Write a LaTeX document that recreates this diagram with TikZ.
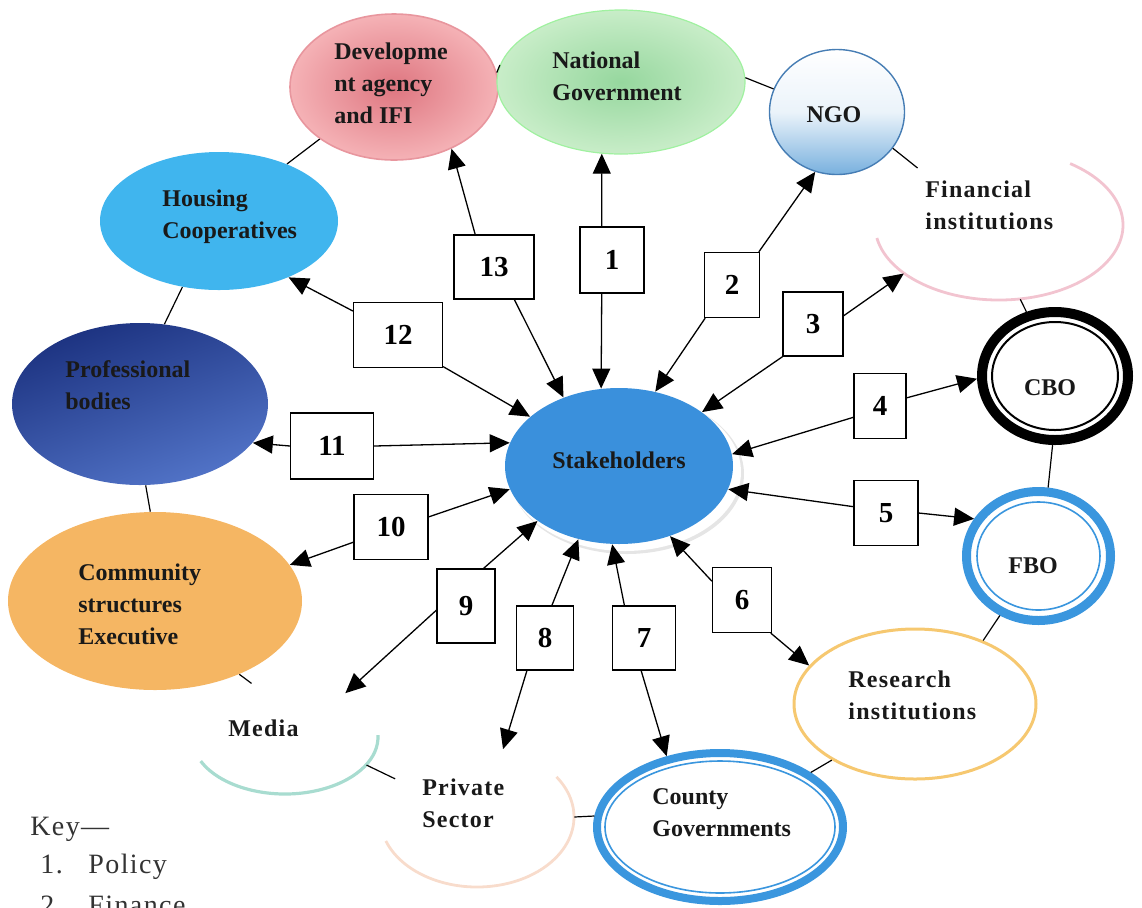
\documentclass[tikz,border=0pt]{standalone}
\usepackage{fontspec}
\setmainfont{Liberation Serif}
\newfontfamily\keyfont[LetterSpace=5]{Liberation Serif}
\usetikzlibrary{shapes.geometric,arrows.meta}
\definecolor{devin}{RGB}{222,118,128}
\definecolor{devout}{RGB}{245,178,182}
\definecolor{devline}{RGB}{232,150,158}
\definecolor{ngin}{RGB}{150,215,158}
\definecolor{ngout}{RGB}{200,237,200}
\definecolor{ngoblue}{RGB}{120,176,222}
\definecolor{ngoline}{RGB}{70,125,180}
\definecolor{finpink}{RGB}{242,196,208}
\definecolor{housing}{RGB}{64,181,238}
\definecolor{profdark}{RGB}{28,50,128}
\definecolor{proflight}{RGB}{82,116,200}
\definecolor{commorange}{RGB}{245,182,99}
\definecolor{mediateal}{RGB}{168,220,208}
\definecolor{privpeach}{RGB}{248,220,204}
\definecolor{ringblue}{RGB}{58,150,222}
\definecolor{resyellow}{RGB}{246,200,112}
\definecolor{stakeblue}{RGB}{58,144,220}
\begin{document}
\begin{tikzpicture}[x=0.5pt,y=-0.5pt,
  blob/.style={ellipse, inner sep=0pt, text=black},
  lbl/.style={font=\fontsize{12}{16}\selectfont\bfseries, align=left, inner sep=0pt, text=black!90},
  wide/.style={font=\fontsize{12}{16}\selectfont\bfseries\addfontfeature{LetterSpace=5}},
  numbox/.style={draw, line width=0.6pt, fill=white, inner sep=0pt, font=\fontsize{14.5}{16}\selectfont\bfseries},
  arr/.style={line width=0.65pt, -{Triangle[length=10pt,width=9pt]}},
  ring/.style={line width=0.6pt},
  keytxt/.style={font=\fontsize{14}{16}\selectfont\keyfont, text=black!80, inner sep=0pt}]
\useasboundingbox (0,0) rectangle (1142,907);
\clip (0,0) rectangle (1142,907);

% ---- ellipses ----
\node[blob, minimum width=104pt, minimum height=73pt, inner color=devin, outer color=devout, draw=devline, line width=0.8pt] (dev) at (394,87) {};
\node[blob, minimum width=124pt, minimum height=72pt, inner color=ngin, outer color=ngout, draw=ngout!80!green, line width=0.6pt] (natgov) at (621,82) {};
\node[blob, minimum width=67.5pt, minimum height=62.5pt, top color=white, bottom color=ngoblue, middle color=white!85!ngoblue, draw=ngoline, line width=0.7pt] (ngo) at (837,112) {};
\node[blob, minimum width=124pt, minimum height=75pt] (fin) at (999,225) {};
\draw[finpink, line width=1.4pt] (fin.center) ++(190:62pt and 37.5pt) arc[start angle=190, end angle=415, x radius=62pt, y radius=37.5pt];
\node[blob, minimum width=119pt, minimum height=69pt, fill=housing] (housing) at (219,221) {};
\node[blob, minimum width=128pt, minimum height=81pt, left color=profdark, right color=proflight, shading angle=20] (prof) at (140,404) {};
\node[blob, minimum width=93pt, minimum height=57pt] (media) at (285,737) {};
\draw[mediateal, line width=1.6pt] (media.center) ++(205:46.5pt and 28.5pt) arc[start angle=205, end angle=362, x radius=46.5pt, y radius=28.5pt];
\node[blob, minimum width=147pt, minimum height=89pt, fill=commorange] (comm) at (155,601) {};
\node[blob, minimum width=97pt, minimum height=70pt] (priv) at (477,817) {};
\draw[privpeach, line width=1.4pt] (priv.center) ++(200:48.5pt and 35pt) arc[start angle=200, end angle=395, x radius=48.5pt, y radius=35pt];
\node[blob, minimum width=123pt, minimum height=74pt, draw=ringblue, line width=4pt, fill=white] (county) at (720,827) {};
\draw[ringblue, line width=0.8pt] (county.center) ellipse[x radius=57.5pt, y radius=33pt];
\node[blob, minimum width=121pt, minimum height=75pt, draw=resyellow, line width=1.5pt, fill=white] (res) at (915,704) {};
\node[blob, minimum width=72pt, minimum height=64.5pt, draw=ringblue, line width=4.5pt, fill=white] (fbo) at (1038.5,556) {};
\draw[ringblue, line width=0.8pt] (fbo.center) ellipse[x radius=30.75pt, y radius=27pt];
\node[blob, minimum width=73pt, minimum height=64pt, draw=black, line width=5pt, fill=white] (cbo) at (1055,376) {};
\draw[black, line width=1pt] (cbo.center) ellipse[x radius=31.5pt, y radius=27pt];

% stakeholders with soft shadow
\fill[black!10] (627,474) ellipse[x radius=58.5pt, y radius=40pt];
\fill[white] (625,472) ellipse[x radius=58pt, y radius=39.5pt];
\node[blob, minimum width=114pt, minimum height=78pt, fill=stakeblue] (stake) at (619,466) {};

% ---- labels ----
\node[lbl, anchor=west] (tdev) at (334,83) {Developme\\nt agency\\and IFI};
\node[lbl, anchor=west] (tnat) at (552,76) {National\\Government};
\node[lbl] (tngo) at (834,115) {NGO};
\node[lbl, wide, anchor=west] (tfin) at (925,205) {Financial\\institutions};
\node[lbl, anchor=west] (thou) at (162,217) {Housing\\Cooperatives};
\node[lbl, anchor=west] (tprof) at (65,385) {Professional\\bodies};
\node[lbl, anchor=west] (tcomm) at (78,604) {Community\\structures\\Executive};
\node[lbl, wide, anchor=west] (tmed) at (228,728) {Media};
\node[lbl, wide, anchor=west] (tpriv) at (422,803) {Private\\Sector};
\node[lbl, anchor=west] (tcty) at (652,813) {County\\Governments};
\node[lbl, wide, anchor=west] (tres) at (848,695) {Research\\institutions};
\node[lbl] (tfbo) at (1033,566) {FBO};
\node[lbl] (tcbo) at (1050,388) {CBO};
\node[lbl] (tstake) at (619,460) {Stakeholders};

% ---- ring connections ----
\draw[ring] (dev.8) -- (natgov.172);
\draw[ring] (natgov.2) -- (ngo.160);
\draw[ring] (ngo.-33) -- (fin.145);
\draw[ring] (fin.-74) -- (cbo.114);
\draw[ring] (cbo.-92) -- (fbo.82);
\draw[ring] (fbo.-123) -- (res.43);
\draw[ring] (res.-146) -- (county.31);
\draw[ring] (county.175) -- (priv.0);
\draw[ring] (priv.155) -- (media.-19);
\draw[ring] (media.122) -- (comm.-41);
\draw[ring] (comm.93) -- (prof.-86);
\draw[ring] (prof.73) -- (housing.-119);
\draw[ring] (housing.40) -- (dev.-145);

% ---- number boxes ----
\node[numbox, minimum width=32pt, minimum height=33pt] (b1) at (612,260) {1};
\node[numbox, minimum width=27.5pt, minimum height=32.5pt] (b2) at (732,285) {2};
\node[numbox, minimum width=30pt, minimum height=32pt] (b3) at (813,324) {3};
\node[numbox, minimum width=26pt, minimum height=32.5pt] (b4) at (880,406) {4};
\node[numbox, minimum width=32pt, minimum height=32.5pt] (b5) at (886,513) {5};
\node[numbox, minimum width=29.5pt, minimum height=32.5pt] (b6) at (742,600) {6};
\node[numbox, minimum width=31.5pt, minimum height=32pt] (b7) at (644,638) {7};
\node[numbox, minimum width=28.5pt, minimum height=32pt] (b8) at (545,638) {8};
\node[numbox, minimum width=29pt, minimum height=37pt] (b9) at (466,606) {9};
\node[numbox, minimum width=37pt, minimum height=32.5pt] (b10) at (391,527) {10};
\node[numbox, minimum width=41.5pt, minimum height=33pt] (b11) at (332,446) {11};
\node[numbox, minimum width=44.5pt, minimum height=32.5pt] (b12) at (398,335) {12};
\node[numbox, minimum width=40pt, minimum height=32pt] (b13) at (494,267) {13};

% ---- arrows ----
\draw[arr] (b1.107) -- (natgov.-105);
\draw[arr] (b1.-107) -- (stake.103);
\draw[arr] (b2.51) -- (ngo.-110);
\draw[arr] (b2.-129) -- (stake.64);
\draw[arr] (b3.15) -- (fin.-153);
\draw[arr] (b3.-133) -- (stake.33);
\draw[arr] (b4.17) -- (cbo.-178);
\draw[arr] (b4.-157) -- (stake.6);
\draw[arr] (b5.169) -- (stake.-12);
\draw[arr] (b5.0) -- (fbo.150);
\draw[arr] (b6.148) -- (stake.-54);
\draw[arr] (b6.-49) -- (res.160);
\draw[arr] (b7.121) -- (stake.-95);
\draw[arr] (b7.-95) -- (county.127);
\draw[arr] (b8.78) -- (stake.-119);
\draw[arr] (b8.-119) -- (priv.69);
\draw[arr] (b9.65) -- (stake.-146);
\draw[arr] (b9.-172) -- (media.36);
\draw[arr] (b10.15) -- (stake.-168);
\draw[arr] (b10.-158) -- (comm.15);
\draw[arr] (b11.0) -- (stake.168);
\draw[arr] (b11.180) -- (prof.-19);
\draw[arr] (b12.152) -- (housing.-39);
\draw[arr] (b12.-35) -- (stake.151);
\draw[arr] (b13.120) -- (dev.-47);
\draw[arr] (b13.-58) -- (stake.129);

% ---- key ----
\node[keytxt, anchor=base west] (keyt) at (30,835) {Key—};
\node[keytxt, anchor=base west] (k1n) at (40,873) {1.};
\node[keytxt, anchor=base west] (k1t) at (88,873) {Policy};
\node[keytxt, anchor=base west] (k2n) at (40,914) {2.};
\node[keytxt, anchor=base west] (k2t) at (88,914) {Finance};
\end{tikzpicture}
\end{document}
